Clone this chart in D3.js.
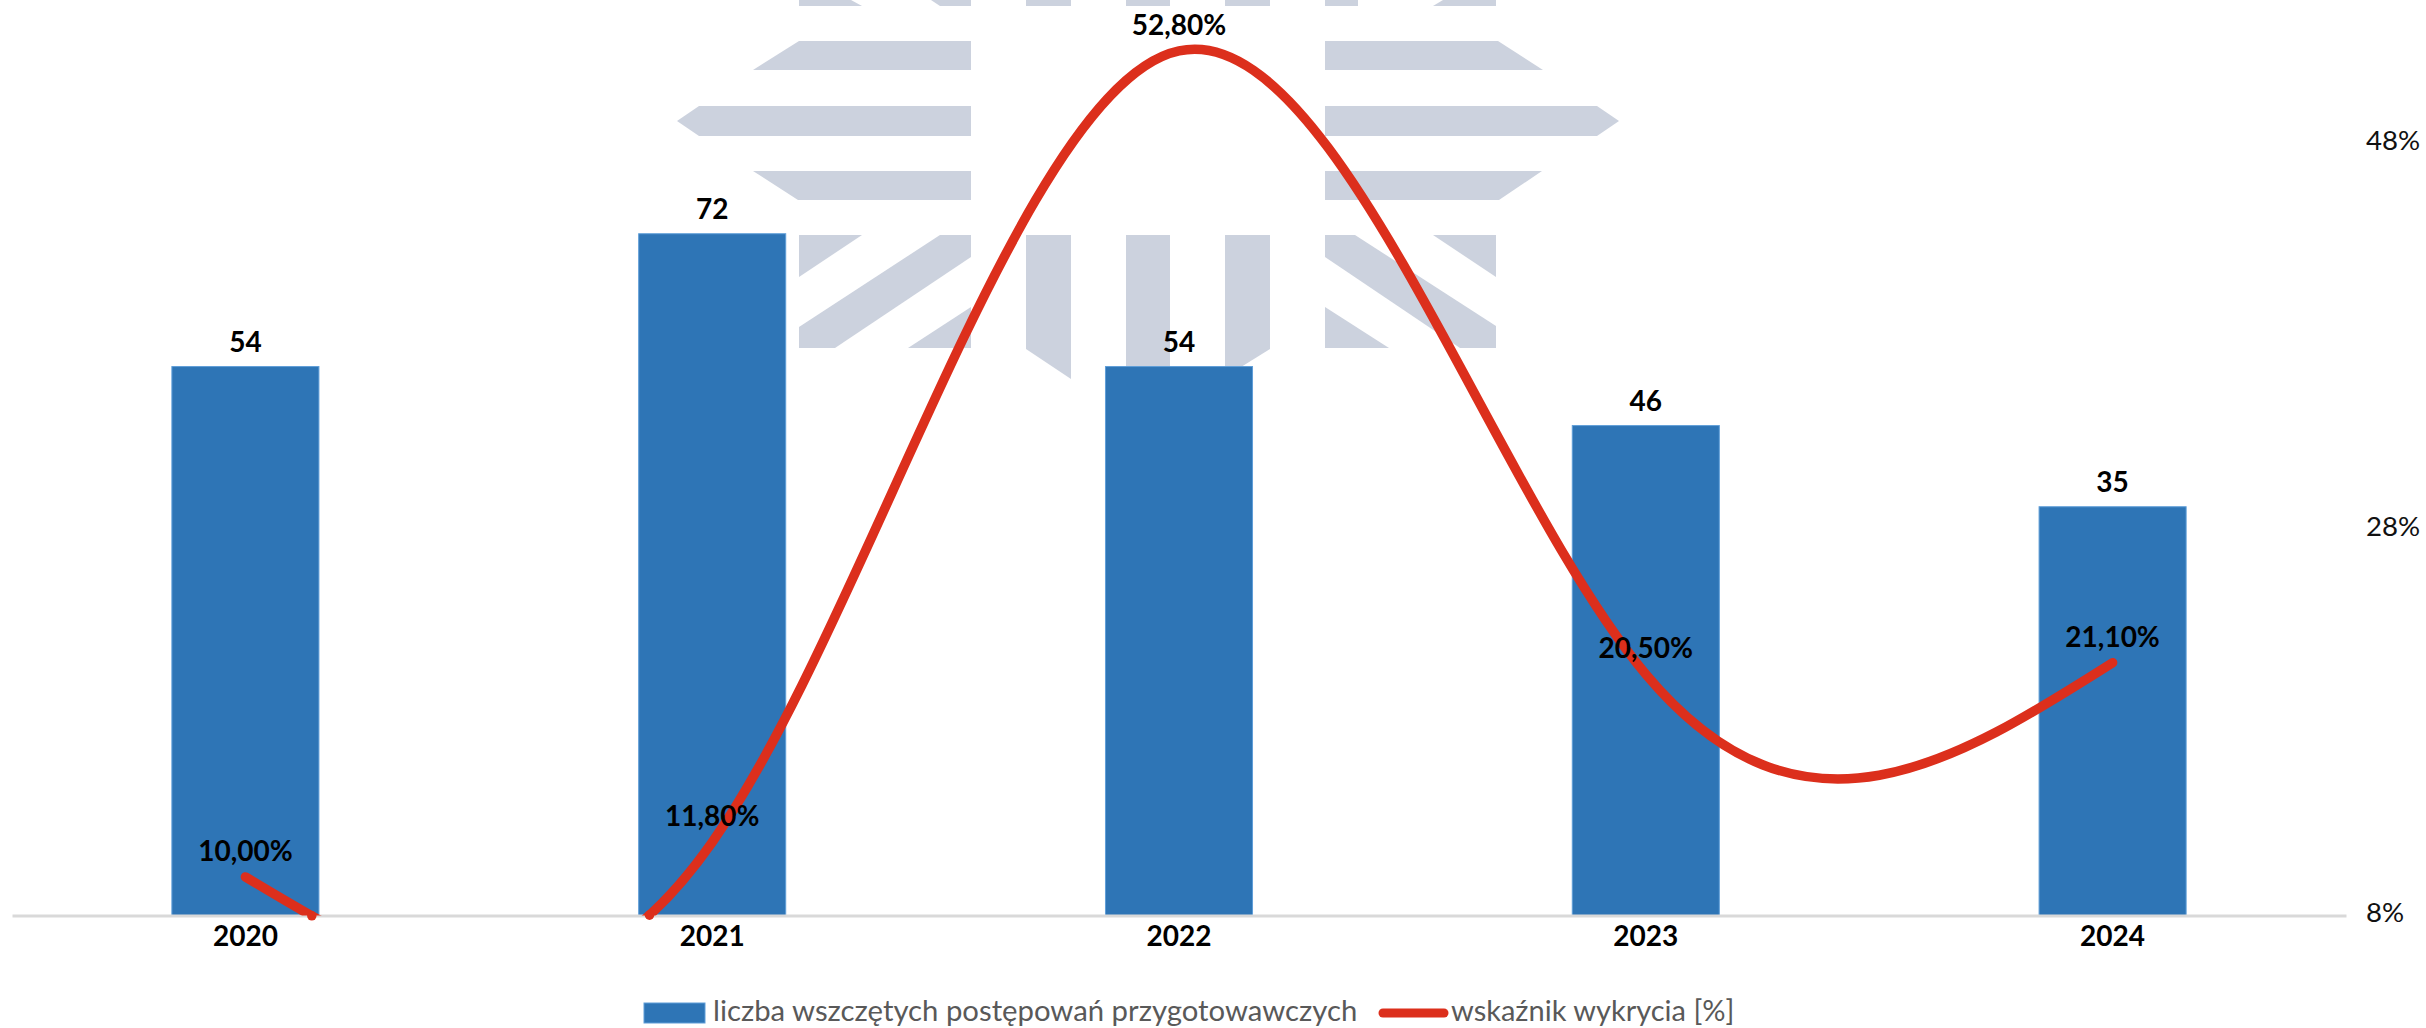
<!DOCTYPE html>
<html lang="pl"><head><meta charset="utf-8">
<script src="https://cdn.jsdelivr.net/npm/d3@7"></script>
<style>
html,body{margin:0;padding:0;background:#fff}
svg{display:block}
text{font-family:Lato,"Open Sans",sans-serif}
</style></head><body>
<svg id="c" width="2426" height="1028"></svg>
<script>
const years = ["2020","2021","2022","2023","2024"];
const cases = [54,72,54,46,35];
const rate = [10.0,11.8,52.8,20.5,21.1];
const rateLabels = ["10,00%","11,80%","52,80%","20,50%","21,10%"];
const rateTicks = [8,28,48];
const legendBar = "liczba wszczętych postępowań przygotowawczych";
const legendLine = "wskaźnik wykrycia [%]";
// background watermark outline pieces
const logoPieces = [
 [[799,0],[851,0],[862,6],[799,6]],[[931,0],[971,0],[971,6],[940,6]],
 [[1026,0],[1071,0],[1071,6],[1026,6]],[[1126,0],[1170,0],[1170,6],[1126,6]],[[1225,0],[1270,0],[1270,6],[1225,6]],
 [[1325,0],[1358,0],[1358,6],[1325,6]],[[1443,0],[1496,0],[1496,6],[1433,6]],
 [[799,41],[971,41],[971,70],[753,70]],[[1325,41],[1498,41],[1543,70],[1325,70]],
 [[699,106],[971,106],[971,136],[699,136],[677,121]],[[1325,106],[1597,106],[1619,121],[1597,136],[1325,136]],
 [[753,171],[971,171],[971,200],[798,200]],[[1325,171],[1542,171],[1499,200],[1325,200]],
 [[799,235],[862,235],[799,277]],[[940,235],[971,235],[971,257],[835,348],[799,348],[799,327]],
 [[971,307],[971,348],[908,348]],[[1026,235],[1071,235],[1071,379],[1026,349]],
 [[1126,235],[1170,235],[1170,367],[1126,367]],[[1225,235],[1270,235],[1270,349],[1225,377]],
 [[1325,235],[1355,235],[1496,326],[1496,348],[1460,348],[1325,257]],
 [[1433,235],[1496,235],[1496,277]],[[1325,307],[1389,348],[1325,348]]
];

const svg = d3.select("#c");
const x = d3.scaleBand().domain(years).range([12,2346]).paddingInner(0.685).paddingOuter(0.3425);
const yBar = d3.scaleLinear().domain([-20.4,103.68]).range([915.5,0]);
const yRate = d3.scaleLinear().domain([8,48]).range([915.5,143.5]);
const cx = d => x(d)+x.bandwidth()/2;

svg.append("g").selectAll("polygon").data(logoPieces).join("polygon")
  .attr("points",d=>d.join(" ")).attr("fill","#ccd2de");

svg.append("g").selectAll("rect").data(years).join("rect")
  .attr("x",d=>x(d)).attr("width",x.bandwidth())
  .attr("y",(d,i)=>yBar(cases[i])).attr("height",(d,i)=>yBar.range()[0]-yBar(cases[i]))
  .attr("fill","#2e75b6").attr("stroke","#5f9ed8").attr("stroke-width",1);

const xAxis = svg.append("g").attr("transform","translate(0,915.5)")
  .call(d3.axisBottom(x).tickSize(0).tickPadding(11));
xAxis.select(".domain").attr("stroke","#d9d9d9").attr("stroke-width",3);
xAxis.selectAll("text").attr("font-size",28).attr("font-weight",700).attr("fill","#000").style("font-family","Lato");

const rAxis = svg.append("g").attr("transform","translate(2366,0)")
  .call(d3.axisRight(yRate).tickValues(rateTicks).tickSize(0).tickPadding(0).tickFormat(d=>d+"%"));
rAxis.select(".domain").remove();
rAxis.selectAll("text").attr("font-size",27.6).attr("fill","#111").attr("dy","0.22em").style("font-family","Lato");

svg.append("clipPath").attr("id","clip").append("rect")
  .attr("x",0).attr("y",0).attr("width",2426).attr("height",yRate(8));
const line = d3.line().x((d,i)=>cx(years[i])).y(d=>yRate(d)).curve(d3.curveNatural);
const rp = svg.append("path").attr("d",line(rate)).attr("clip-path","url(#clip)")
  .attr("fill","none").attr("stroke","#dc2f1c").attr("stroke-width",9.5).attr("stroke-linecap","round");
// round ends where the curve leaves and re-enters the plot at the axis floor
const node = rp.node(), total = node.getTotalLength(), floorY = yRate(8), ends = [];
let prev = node.getPointAtLength(0);
for (let l = 1; l <= total; l += 1) {
  const p = node.getPointAtLength(l);
  if ((prev.y - floorY) * (p.y - floorY) < 0) ends.push(p);
  prev = p;
}
svg.append("g").selectAll("circle").data(ends).join("circle")
  .attr("cx",d=>d.x).attr("cy",d=>d.y).attr("r",4.75).attr("fill","#dc2f1c");

const lab = (sel)=>sel.attr("text-anchor","middle").attr("font-size",28).attr("font-weight",700).attr("fill","#000");
svg.append("g").selectAll("text").data(years).join("text").call(lab)
  .attr("x",cx).attr("y",(d,i)=>yBar(cases[i])-15).text((d,i)=>cases[i]);
svg.append("g").selectAll("text").data(years).join("text").call(lab)
  .attr("x",cx).attr("y",(d,i)=>yRate(rate[i])-16).text((d,i)=>rateLabels[i]);

const lg = svg.append("g");
lg.append("rect").attr("x",644).attr("y",1003).attr("width",61).attr("height",20)
  .attr("fill","#2e75b6").attr("stroke","#5f9ed8");
lg.append("text").attr("x",713).attr("y",1021).attr("font-size",29.3).attr("fill","#595959").text(legendBar);
lg.append("line").attr("x1",1383).attr("x2",1444).attr("y1",1013).attr("y2",1013)
  .attr("stroke","#dc2f1c").attr("stroke-width",9).attr("stroke-linecap","round");
lg.append("text").attr("x",1451).attr("y",1021).attr("font-size",29).attr("fill","#595959").text(legendLine);
</script>
</body></html>
